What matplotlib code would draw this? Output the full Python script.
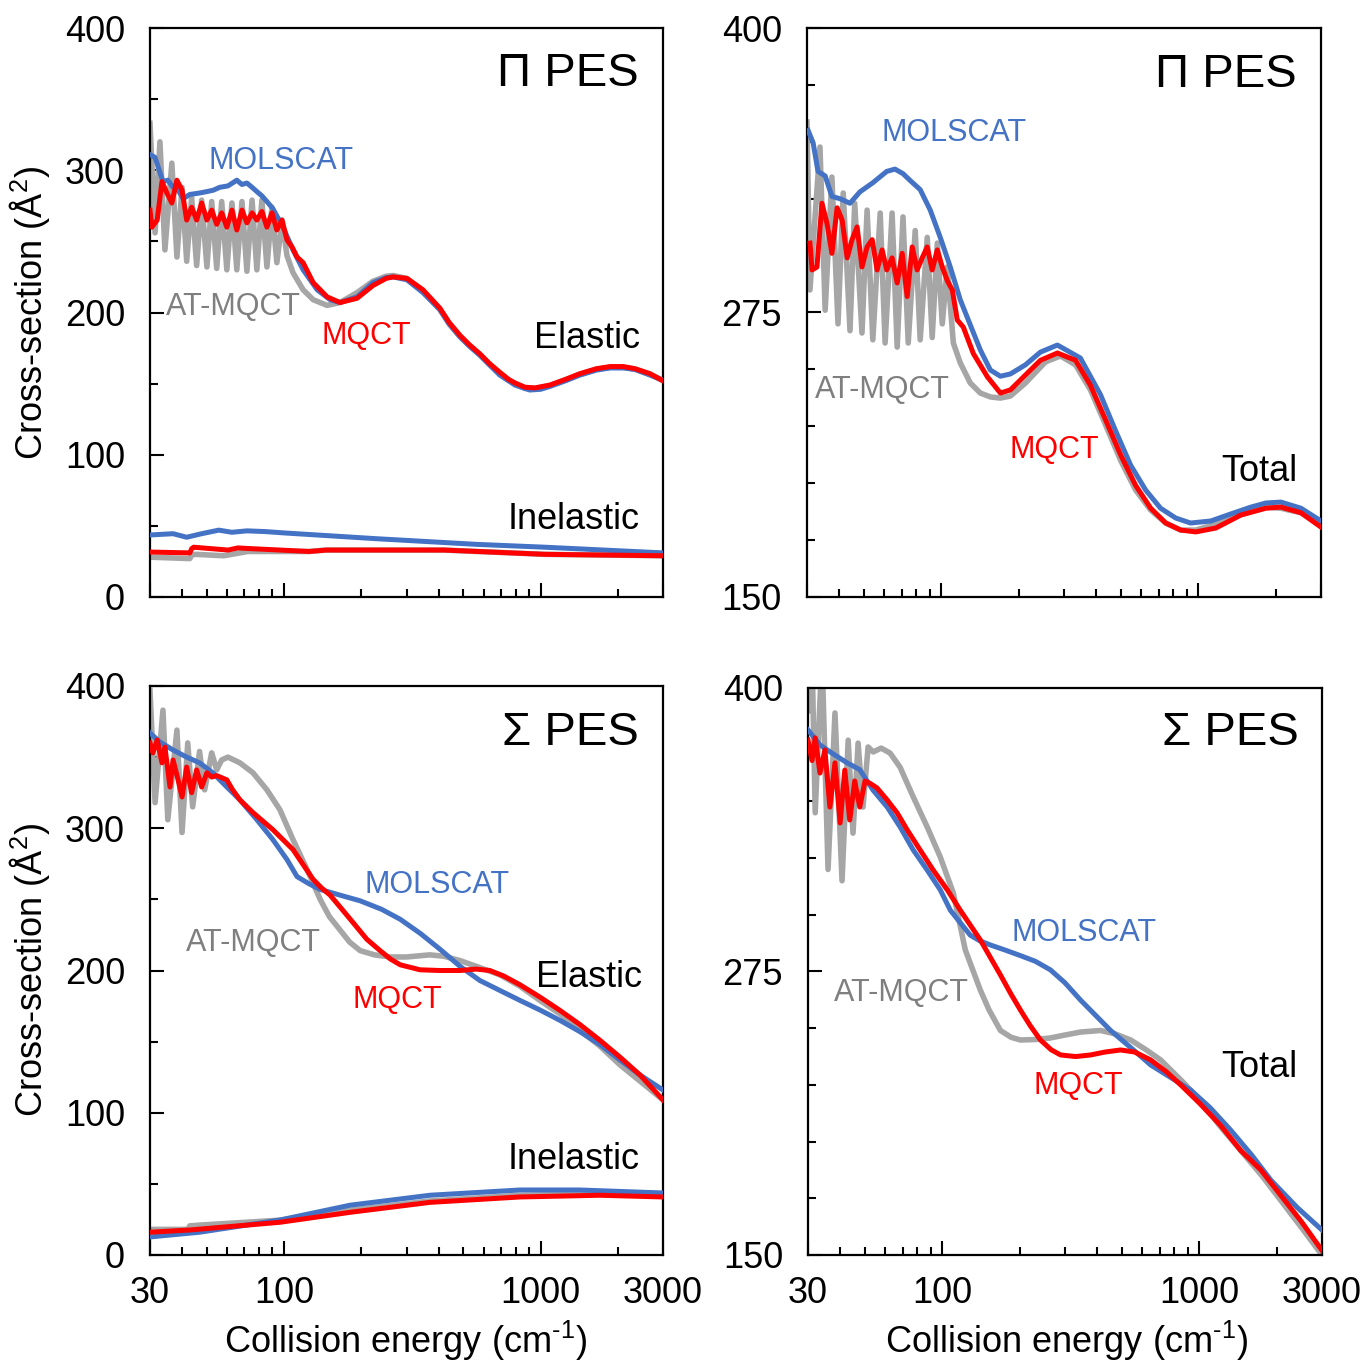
import matplotlib
matplotlib.use("Agg")
import matplotlib.pyplot as plt
from matplotlib.ticker import FixedLocator, NullFormatter

plt.rcParams['font.family'] = ['Liberation Sans', 'DejaVu Sans']
plt.rcParams['mathtext.fontset'] = 'custom'
plt.rcParams['mathtext.rm'] = 'Liberation Sans'
plt.rcParams['mathtext.it'] = 'Liberation Sans'

BLUE = '#4472C4'
RED = '#FF0000'
GRAY = '#A6A6A6'
GRAY_TXT = '#7F7F7F'

# ---------------- Pi PES, elastic / inelastic ----------------
e_pi_el_mol = [30, 31.4, 33.7, 35.2, 36.9, 38.6, 40.4, 42.9, 46.8, 50, 53, 56.1, 60.4, 65.4, 68.5, 71.6,
               75.0, 78.3, 81.9, 85.7, 90.4, 99.0, 108.3, 118.6, 134.5, 151.1, 165.2, 192.5, 222.2,
               250, 266, 301, 347.6, 405, 440, 484.5, 530, 579, 633, 693, 750, 794, 870, 908, 1000,
               1086, 1250, 1423, 1650, 1867, 2100, 2335, 2670, 3000]
pi_el_mol = [311, 309, 292, 293, 288, 286, 280, 283, 284, 285, 286, 288, 289, 293, 290, 291, 288, 285,
             282, 278, 273, 260, 244, 230, 216, 209, 207, 211, 221, 224.5, 225, 223, 214, 202, 192,
             183, 176, 170, 163, 156, 152, 149, 146.5, 145.5, 146, 148, 152, 156, 159.5, 161, 161,
             160, 156, 152.5]

e_pi_el_mqct = [30, 30.5, 32.0, 33.4, 34.9, 36.5, 38.2, 40.0, 41.7, 43.6, 45.6, 47.7, 50.0, 52.2, 54.6,
                57.1, 59.8, 62.6, 65.4, 68.5, 71.6, 75.0, 78.3, 81.9, 85.7, 89.6, 93.7, 98.1, 102.6,
                107.4, 112.3, 118.6, 129.8, 147.1, 165.2, 192.5, 222.2, 250, 266, 301, 347.6, 405,
                440, 484.5, 530, 579, 633, 693, 750, 794, 868, 950, 1086, 1250, 1423, 1650, 1867,
                2100, 2335, 2670, 3000]
pi_el_mqct = [272, 260, 265, 292, 284, 277, 293, 286, 265, 274, 265, 277, 265, 272, 262, 270, 260, 272,
              258, 272, 263, 270, 265, 271, 260, 270, 258, 265, 251, 246, 239, 235, 221, 211, 207, 210,
              219, 224, 225, 224, 216, 203, 193, 184, 177, 171, 164, 158, 153, 150.5, 147.5, 147,
              149, 153, 157, 160.5, 162, 162, 160.5, 157, 152]

e_pi_el_at = [30, 31.4, 32.8, 34.3, 36.5, 38.2, 40.0, 41.7, 43.6, 45.6, 47.7, 50.0, 52.2, 54.6, 57.1,
              59.8, 62.6, 65.4, 68.5, 71.6, 75.0, 78.3, 81.9, 85.7, 89.6, 93.7, 98.1, 102.6, 108.3,
              118.6, 129.8, 147.1, 165.2, 192.5, 222.2, 250, 266, 301, 347.6, 405, 440, 484.5, 530,
              579, 633, 693, 750, 794, 868, 950, 1086, 1250, 1423, 1650, 1867, 2100, 2335, 2670, 3000]
pi_el_at = [333, 256, 320, 244, 305, 239, 288, 236, 281, 233, 279, 232, 278, 231, 278, 230, 277, 230,
            278, 229, 279, 230, 279, 232, 274, 235, 265, 240, 228, 216, 209, 205, 207, 214, 222, 225.5,
            226, 224, 215, 202, 192, 183, 176.5, 170.5, 163.5, 157, 152.5, 150, 147, 146.5, 148.5,
            152.5, 156.5, 160, 161.5, 161.5, 160, 156.5, 152]

e_pi_in_mol = [30, 36.9, 41.7, 47.7, 55.6, 62.6, 71.6, 84.2, 100.8, 228.2, 564, 1038.8, 3000]
pi_in_mol = [43.6, 44.5, 42, 44.5, 47, 45.5, 46.5, 46, 45, 41, 37, 35, 31]
e_pi_in_mqct = [30, 42.9, 43.6, 44.4, 60.4, 66, 74.2, 125.2, 145.8, 419.7, 1038.8, 3000]
pi_in_mqct = [31.6, 31, 34, 35, 33, 34.5, 34, 32, 33, 33, 30, 29]
e_pi_in_at = [30, 42.9, 43.6, 45.2, 58.2, 72.2, 125.2, 145.8, 419.7, 1038.8, 3000]
pi_in_at = [28, 27, 29.5, 30, 29, 32, 32, 33, 33, 30, 29]

# ---------------- Pi PES, total ----------------
e_pi_tot_mol = [30.3, 30.8, 31.7, 33.1, 35.3, 37.5, 40.3, 44.1, 48.2, 54.1, 61.3, 66.0, 70.9, 75.6,
                82.7, 90.5, 99.0, 108.3, 118.5, 129.6, 141.8, 155.1, 169.7, 185.6, 212.3, 242.9,
                282.8, 347.4, 415.6, 476.4, 544.6, 623.4, 712.6, 816.3, 932.4, 1117.6, 1337.7,
                1601, 1830, 2095, 2507, 3000]
pi_tot_mol = [355, 353, 349.5, 337, 335, 326, 325, 323, 328, 332, 337, 338, 336, 333, 329, 320, 308,
              295, 280.5, 269.5, 258.5, 249.7, 247, 248, 252, 257.6, 260.7, 255, 239, 223, 208, 197,
              189, 184.7, 182.5, 183.4, 186.5, 189.5, 191.3, 191.7, 189, 183.4]

e_pi_tot_mqct = [30.8, 31.4, 32.8, 34.3, 35.9, 37.5, 39.3, 41.1, 43.0, 44.9, 47.0, 49.1, 51.4, 53.8,
                 56.2, 58.8, 61.3, 64.3, 67.3, 70.4, 73.6, 77.0, 80.5, 84.2, 88.1, 92.1, 96.4, 100.8,
                 105.4, 110.3, 115.3, 121.7, 133.1, 151.1, 169.7, 185.6, 212.3, 242.9, 282.8, 332.7,
                 380.2, 435.5, 498.4, 570, 652.3, 746, 854, 977, 1169, 1463, 1830, 2095, 2507, 3000]
pi_tot_mqct = [305.5, 293.7, 295, 323, 314, 301, 321, 315.6, 299, 307, 312.6, 295, 303.8, 307, 293.7,
               302.5, 293.7, 299, 288, 301, 282, 303.8, 293.7, 299, 303.8, 293.7, 302.5, 295, 289,
               284.9, 271.7, 268.6, 257, 246.7, 239.6, 241, 247.5, 254, 257.2, 254, 243, 227.8, 212.4,
               199, 189, 182.5, 179.4, 178.6, 180.3, 186, 189, 189.5, 187, 180.7]

e_pi_tot_at = [30, 30.8, 33.7, 35.3, 37.5, 39.6, 41.5, 44.1, 46.0, 49.1, 51.4, 54.1, 57.8, 60.4, 64.3,
               67.3, 70.9, 74.3, 79.1, 82.7, 88.1, 92.1, 96.4, 100.8, 105.4, 111.3, 118.5, 129.6,
               141.8, 155.1, 169.7, 185.6, 212.3, 254.1, 290.7, 332.7, 380.2, 435.5, 498.4, 570,
               652.3, 746, 854, 977, 1169, 1463, 1830, 2095, 2507, 3000]
pi_tot_at = [358.7, 284.9, 347.7, 276, 334.5, 270, 327.5, 267, 323, 266, 320, 263, 318.7, 261.6,
             318.7, 259.8, 317, 261.6, 311, 263, 308, 264, 305.5, 270, 295, 261.6, 252.8, 244,
             239.6, 237.9, 237.4, 238.3, 244, 253.3, 255.9, 252, 241, 225.6, 210, 197, 188.2,
             182.5, 179.4, 179.4, 182, 187, 189.5, 189, 187, 181.6]

# ---------------- Sigma PES, elastic / inelastic ----------------
e_sig_el_mol = [30, 32.8, 36.9, 41.7, 46.8, 52.7, 59.8, 67.2, 78.3, 90.4, 102.6, 112.3, 125, 138.2,
                165, 197.8, 240, 283.6, 340, 404.9, 484.5, 579.2, 693, 830.3, 1000, 1188.3, 1423,
                1701.6, 2042, 2441.8, 3000]
sig_el_mol = [367, 360.6, 355, 350, 346, 339, 329, 320, 306, 292, 278, 266, 261, 257, 253, 249, 243,
              236, 226, 215, 203, 193, 186, 179, 172, 165, 157, 148, 137, 126.5, 116]

e_sig_el_mqct = [30, 30.8, 32.0, 33.4, 34.3, 35.9, 36.9, 38.6, 40.0, 41.7, 43.6, 45.6, 47.7, 50.0, 52.2,
                 54.6, 59.8, 63.0, 67.2, 75.6, 90.4, 108.3, 129.8, 140, 151.1, 170, 189, 210, 236.6,
                 260, 283.6, 338.5, 404.9, 484.5, 560, 633.6, 720, 830.3, 1000, 1188.3, 1423, 1701.6,
                 2042, 2441.8, 3000]
sig_el_mqct = [360, 353, 362, 346, 357, 329, 348, 334, 322, 343, 325, 341, 329, 339, 336, 337, 334, 327,
               320, 311, 299, 285, 264, 258, 253, 242, 232, 222, 214, 208, 204, 200.5, 200, 200, 201,
               200, 196, 190, 181, 172, 162, 151, 139, 126.5, 109]

e_sig_el_at = [30, 31.4, 33.7, 35.2, 38.2, 40.0, 42.1, 44.0, 46.8, 49.0, 52.2, 54.6, 57.1, 60.4, 67.2,
               75.6, 85.7, 96.3, 108.3, 122.9, 138.2, 150, 165.2, 180, 197.8, 225, 258.8, 300, 370,
               420, 484.5, 560, 693.3, 830, 993.1, 1200, 1423.2, 1700, 2041, 2450, 3000]
sig_el_at = [397, 318, 383, 306, 369, 297, 360, 315, 354, 327, 353, 341, 348, 350, 346, 339, 327, 313,
             292, 271, 250, 238, 228.5, 220, 214, 211, 209.5, 209.5, 211, 210, 207, 203, 197, 189, 179,
             169, 158, 147, 133.6, 122, 109]

e_sig_in_mol = [30, 46.8, 96.3, 180.7, 370, 830.3, 1423.2, 3000]
sig_in_mol = [12.7, 16, 24.6, 35, 42, 45.7, 45.7, 43.6]
e_sig_in_mqct = [30, 42.9, 96.3, 180.7, 370, 830.3, 1701.6, 3000]
sig_in_mqct = [16, 17.6, 23, 30, 37, 40.8, 42, 40.8]
e_sig_in_at = [30, 42.1, 42.9, 46.8, 96.3, 180.7, 370, 830.3, 1701.6, 3000]
sig_in_at = [18, 18, 20.5, 21, 24.5, 31.5, 38, 42, 43, 42]

# ---------------- Sigma PES, total ----------------
e_sig_tot_mol = [30, 33.4, 37.5, 42.6, 47.7, 53.7, 61.0, 68.5, 77.0, 87.3, 98.1, 107.4, 128.4, 140,
                 153.7, 175, 201.2, 230, 263.4, 300, 344.8, 400, 451.3, 540, 646.3, 780, 925.6, 1100,
                 1325.6, 1600, 1898, 2400, 3000]
sig_tot_mol = [381.5, 374.9, 371, 367, 364, 355, 347.5, 338.7, 328.6, 319.7, 311, 302, 291, 288.5,
               286.7, 284.5, 282, 279.5, 275.7, 270, 262.4, 255, 249, 241.5, 233.8, 228, 222.7, 215,
               205, 194, 183, 171, 161]

e_sig_tot_mqct = [30, 31.1, 32.0, 33.4, 34.9, 36.5, 38.2, 40.0, 41.7, 43.6, 45.6, 47.7, 50.0, 52.2, 55.6,
                  61.0, 66.7, 73.0, 81.9, 92.1, 104.5, 117.4, 140.5, 168.2, 185, 201.2, 220, 240.8,
                  265, 288.2, 330, 377, 430, 493.7, 560, 646.3, 740, 846, 1000, 1212, 1450, 1735,
                  2050, 2484, 3000]
sig_tot_mqct = [377, 368, 378, 362.5, 372.7, 347.5, 367, 340.5, 363.8, 341.8, 359, 347.5, 359, 358, 356,
                350.6, 344.9, 337.4, 328.6, 319.7, 311, 302, 288.9, 273.5, 265, 258, 251, 244.8,
                240.5, 238.2, 237.5, 238.2, 239.5, 240.4, 239.5, 236, 231, 225, 217, 207, 196,
                187.5, 177, 165, 152]

e_sig_tot_at = [30, 31.1, 32.0, 34.0, 35.9, 38.2, 40.7, 43.0, 44.9, 47.0, 49.1, 51.4, 53.8, 57.8, 62.6,
                68.5, 77.0, 87.3, 98.1, 110.3, 122.8, 131, 140.5, 152, 168.2, 185, 201.2, 230, 263.4,
                300, 344.8, 412.5, 470, 540, 620, 706.9, 850, 1013, 1200, 1450, 1750, 2076, 2500, 3000]
sig_tot_at = [390, 415, 345, 415, 320, 389, 315, 377, 336, 375.7, 347.5, 374, 371.8, 373.5, 371.3, 365,
              352, 338.7, 325.5, 309.6, 284.5, 276, 266.8, 258, 249, 246, 244.8, 245, 245.7, 247,
              248.3, 249, 247.5, 244.8, 240.5, 236, 227, 218, 207, 196, 185, 174, 162, 150]

x_ticks = [30, 100, 1000, 3000]
x_tick_labels = ['30', '100', '1000', '3000']
x_minor = [40, 50, 60, 70, 80, 90, 200, 300, 400, 500, 600, 700, 800, 900, 2000]

W, H = 1368, 1362
fig = plt.figure(figsize=(W / 100, H / 100), dpi=100)


def box(x0, y0, x1, y1):
    return [x0 / W, 1 - y1 / H, (x1 - x0) / W, (y1 - y0) / H]


ax_tl = fig.add_axes(box(150, 28, 663, 597))
ax_tr = fig.add_axes(box(807, 28, 1321, 597))
ax_bl = fig.add_axes(box(150, 686, 663, 1255))
ax_br = fig.add_axes(box(808, 688, 1322, 1255))


def style(ax, ylim, ymajor, yminor, show_x):
    ax.set_xscale('log')
    ax.set_xlim(30, 3000)
    ax.set_ylim(*ylim)
    ax.xaxis.set_major_locator(FixedLocator(x_ticks))
    ax.xaxis.set_minor_locator(FixedLocator(x_minor))
    ax.xaxis.set_minor_formatter(NullFormatter())
    if show_x:
        ax.set_xticklabels(x_tick_labels)
    else:
        ax.set_xticklabels([])
    ax.set_yticks(ymajor)
    ax.set_yticklabels([str(v) for v in ymajor])
    ax.yaxis.set_minor_locator(FixedLocator(yminor))
    ax.tick_params(axis='both', which='major', direction='in', length=10, width=1.5,
                   labelsize=26, colors='black')
    ax.tick_params(axis='both', which='minor', direction='in', length=6, width=1.5)
    ax.tick_params(axis='x', which='major', pad=15)
    ax.tick_params(axis='y', which='major', pad=18)
    for s in ax.spines.values():
        s.set_linewidth(1.6)
        s.set_color('black')


def draw(ax, e_at, at, e_mol, mol, e_mq, mq):
    ax.plot(e_at, at, color=GRAY, lw=4.0, zorder=2, solid_joinstyle='round')
    ax.plot(e_mol, mol, color=BLUE, lw=3.6, zorder=3, solid_joinstyle='round')
    ax.plot(e_mq, mq, color=RED, lw=3.6, zorder=4, solid_joinstyle='round')


left_major = [0, 100, 200, 300, 400]
left_minor = [50, 150, 250, 350]
right_major = [150, 275, 400]
right_minor = [175, 200, 225, 250, 300, 325, 350, 375]

style(ax_tl, (0, 400), left_major, left_minor, False)
style(ax_tr, (150, 400), right_major, right_minor, False)
style(ax_bl, (0, 400), left_major, left_minor, True)
style(ax_br, (150, 400), right_major, right_minor, True)

draw(ax_tl, e_pi_el_at, pi_el_at, e_pi_el_mol, pi_el_mol, e_pi_el_mqct, pi_el_mqct)
draw(ax_tl, e_pi_in_at, pi_in_at, e_pi_in_mol, pi_in_mol, e_pi_in_mqct, pi_in_mqct)
draw(ax_tr, e_pi_tot_at, pi_tot_at, e_pi_tot_mol, pi_tot_mol, e_pi_tot_mqct, pi_tot_mqct)
draw(ax_bl, e_sig_el_at, sig_el_at, e_sig_el_mol, sig_el_mol, e_sig_el_mqct, sig_el_mqct)
draw(ax_bl, e_sig_in_at, sig_in_at, e_sig_in_mol, sig_in_mol, e_sig_in_mqct, sig_in_mqct)
draw(ax_br, e_sig_tot_at, sig_tot_at, e_sig_tot_mol, sig_tot_mol, e_sig_tot_mqct, sig_tot_mqct)


def label(ax, x, y, s, color='black', size=22, ha='center'):
    ax.text(x, y, s, transform=ax.transAxes, color=color, fontsize=size, ha=ha, va='center', zorder=6)


# top-left
label(ax_tl, 0.952, 0.919, 'Π PES', size=34, ha='right')
label(ax_tl, 0.255, 0.766, 'MOLSCAT', BLUE)
label(ax_tl, 0.162, 0.509, 'AT-MQCT', GRAY_TXT)
label(ax_tl, 0.421, 0.458, 'MQCT', RED)
label(ax_tl, 0.955, 0.455, 'Elastic', size=26, ha='right')
label(ax_tl, 0.955, 0.137, 'Inelastic', size=26, ha='right')
# top-right
label(ax_tr, 0.952, 0.918, 'Π PES', size=34, ha='right')
label(ax_tr, 0.286, 0.815, 'MOLSCAT', BLUE)
label(ax_tr, 0.146, 0.364, 'AT-MQCT', GRAY_TXT)
label(ax_tr, 0.482, 0.258, 'MQCT', RED)
label(ax_tr, 0.955, 0.221, 'Total', size=26, ha='right')
# bottom-left
label(ax_bl, 0.952, 0.917, 'Σ PES', size=34, ha='right')
label(ax_bl, 0.559, 0.650, 'MOLSCAT', BLUE)
label(ax_bl, 0.201, 0.548, 'AT-MQCT', GRAY_TXT)
label(ax_bl, 0.483, 0.448, 'MQCT', RED)
label(ax_bl, 0.959, 0.487, 'Elastic', size=26, ha='right')
label(ax_bl, 0.955, 0.167, 'Inelastic', size=26, ha='right')
# bottom-right
label(ax_br, 0.955, 0.920, 'Σ PES', size=34, ha='right')
label(ax_br, 0.537, 0.568, 'MOLSCAT', BLUE)
label(ax_br, 0.181, 0.462, 'AT-MQCT', GRAY_TXT)
label(ax_br, 0.525, 0.298, 'MQCT', RED)
label(ax_br, 0.953, 0.330, 'Total', size=26, ha='right')

ylab = 'Cross-section (Å$^{2}$)'
fig.text(30 / W, 1 - 313 / H, ylab, rotation=90, fontsize=26, ha='center', va='center')
fig.text(30 / W, 1 - 970 / H, ylab, rotation=90, fontsize=26, ha='center', va='center')
xlab = 'Collision energy (cm$^{\\text{-}1}$)'
fig.text(405 / W, 1 - 1341 / H, xlab, fontsize=26, ha='center', va='center')
fig.text(1066 / W, 1 - 1341 / H, xlab, fontsize=26, ha='center', va='center')

fig.savefig('out.png', dpi=100)
